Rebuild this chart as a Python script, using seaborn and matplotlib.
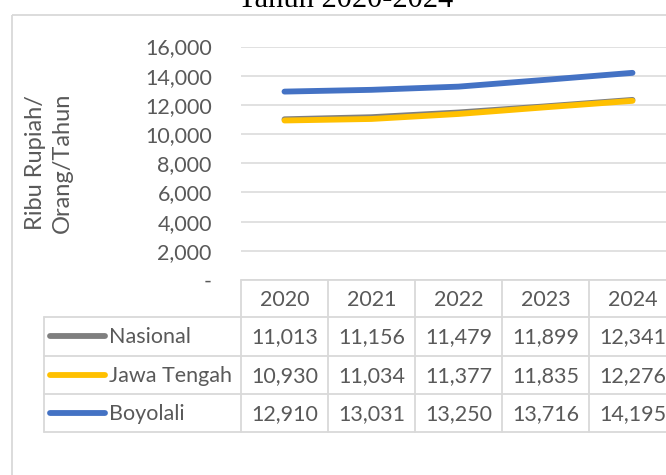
import matplotlib
matplotlib.use("Agg")
import matplotlib.pyplot as plt
import seaborn as sns
import pandas as pd
from matplotlib.ticker import FuncFormatter
from matplotlib.patches import Rectangle

# data
years = ["2020", "2021", "2022", "2023", "2024"]
series = ["Nasional", "Jawa Tengah", "Boyolali"]
nasional = [11013, 11156, 11479, 11899, 12341]
jawa_tengah = [10930, 11034, 11377, 11835, 12276]
boyolali = [12910, 13031, 13250, 13716, 14195]
colors = ["#7f7f7f", "#ffc000", "#4472c4"]

values = [nasional, jawa_tengah, boyolali]
rows = []
for name, vals in zip(series, values):
    for i, v in enumerate(vals):
        rows.append({"idx": i, "year": years[i], "series": name, "value": v})
df = pd.DataFrame(rows)

sns.set_theme(style="white")
plt.rcParams["font.family"] = ["Lato", "DejaVu Sans"]

W, H = 666, 475
fig = plt.figure(figsize=(W / 100, H / 100), dpi=100)
txt = "#595959"
grid_c = "#d9d9d9"
fs = 15.5


def fx(px):
    return px / W


def fy(py):
    return 1 - py / H


# overlay in pixel coords for border / table
over = fig.add_axes([0, 0, 1, 1], zorder=0)
over.set_xlim(0, W)
over.set_ylim(H, 0)
over.axis("off")
over.add_patch(Rectangle((12, 15), 800, 600, fill=False, ec=grid_c, lw=1.3))

left, right, top, bottom = 241, 676, 46.5, 280
ax = fig.add_axes([fx(left), fy(bottom), fx(right) - fx(left), fy(top) - fy(bottom)], zorder=2)
ax.patch.set_alpha(0)
sns.lineplot(data=df, x="idx", y="value", hue="series", hue_order=series,
             palette=colors, lw=4.2, legend=False, ax=ax, sort=False,
             solid_capstyle="round")
ax.set_xlim(-0.5, 4.5)
ax.set_ylim(0, 16000)
ax.set_yticks(range(0, 16001, 2000))
ax.yaxis.set_major_formatter(FuncFormatter(lambda v, p: "-" if v == 0 else f"{v:,.0f}"))
ax.set_xticks([])
ax.set_xlabel("")
ax.set_ylabel("")
ax.tick_params(axis="y", length=0, pad=21, labelsize=fs, labelcolor=txt)
ax.grid(axis="y", color=grid_c, lw=1.1)
ax.grid(axis="x", visible=False)
for s in ax.spines.values():
    s.set_visible(False)

fig.text(fx(49), fy(163), "Ribu Rupiah/\nOrang/Tahun", rotation=90, ha="center",
         va="center", fontsize=17, color=txt, linespacing=1.35, multialignment="center")

fig.text(fx(346), fy(7), "Tahun 2020-2024", ha="center", va="baseline",
         fontsize=22, family="Liberation Serif", color="black")

# data table
colw = (right - left) / 5
row_y = [280, 317, 355.5, 394, 432]
lab_left = 44
lc = dict(color=grid_c, lw=1.3)
over.plot([left, right], [row_y[0], row_y[0]], **lc)
for y in row_y[1:]:
    over.plot([lab_left, right], [y, y], **lc)
over.plot([lab_left, lab_left], [row_y[1], row_y[-1]], **lc)
for i in range(6):
    x = left + i * colw
    over.plot([x, x], [row_y[0], row_y[-1]], **lc)

for i, yr in enumerate(years):
    over.text(left + (i + 0.5) * colw, (row_y[0] + row_y[1]) / 2 + 1, yr,
              ha="center", va="center", fontsize=fs, color=txt)

for r, (name, vals, c) in enumerate(zip(series, values, colors)):
    yc = (row_y[r + 1] + row_y[r + 2]) / 2 + 1
    over.plot([50, 105], [yc - 1, yc - 1], color=c, lw=4.2, solid_capstyle="round")
    over.text(109, yc, name, ha="left", va="center", fontsize=fs, color=txt)
    for i, v in enumerate(vals):
        over.text(left + (i + 0.5) * colw, yc, f"{v:,}", ha="center", va="center",
                  fontsize=fs, color=txt)

fig.savefig("out.png", dpi=100)
